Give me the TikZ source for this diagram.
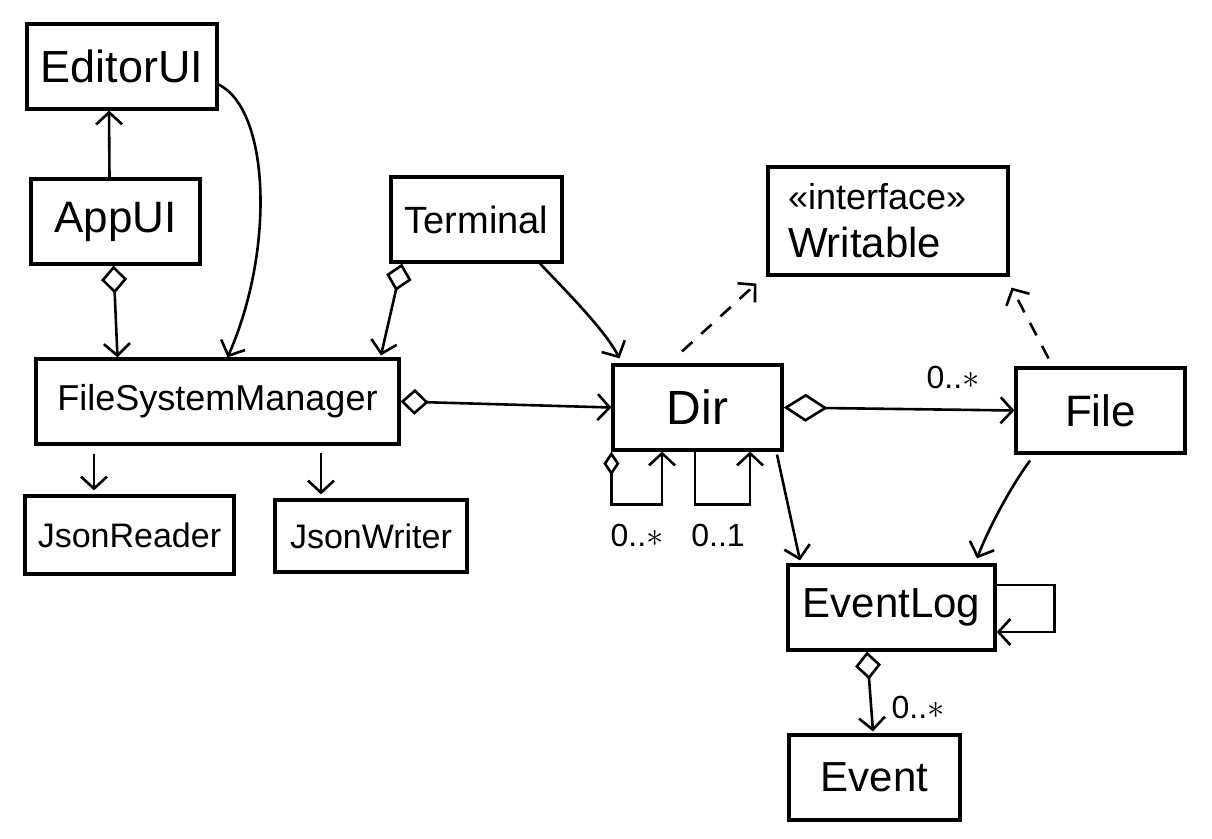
\documentclass[tikz,border=0pt]{standalone}
\usepackage{fontspec}
\setmainfont{Liberation Sans}
\usetikzlibrary{arrows.meta}

\begin{document}
\begin{tikzpicture}[x=0.5pt,y=-0.5pt,
    cls/.style={draw,line width=1.6pt,inner sep=0pt,minimum height=42.5pt,
      font=\fontsize{21}{24}\selectfont},
    assoc/.style={line width=1.3pt,-{Straight Barb[length=6pt,width=13pt]}},
    agg/.style={line width=1.3pt,
      {Diamond[open,length=14pt,width=13pt,#1]}-{Straight Barb[length=6pt,width=13pt]}},
    agg/.default={},
    real/.style={assoc,dash pattern=on 7pt off 6pt},
    mult/.style={font=\fontsize{16}{18}\selectfont}]
  \useasboundingbox (0,0) rectangle (1212,839);
  % classes
  \node[cls,minimum width=95pt,font=\fontsize{22.5}{26}\selectfont] (editor) at (122,66.5) {EditorUI};
  \node[cls,minimum width=84.5pt,font=\fontsize{22}{26}\selectfont] (app) at (115.5,221.5) {AppUI};
  \node[cls,minimum width=85.5pt,font=\fontsize{19}{22}\selectfont] (term) at (476.5,219.5) {Terminal};
  \node[cls,minimum width=181.5pt,font=\fontsize{18}{22}\selectfont] (fsm) at (217.5,401.5) {FileSystemManager};
  \node[cls,minimum width=104.5pt,minimum height=39pt,font=\fontsize{17}{20}\selectfont] (reader) at (129.5,535) {JsonReader};
  \node[cls,minimum width=96pt,minimum height=36pt,font=\fontsize{17}{20}\selectfont] (writer) at (371,536) {JsonWriter};
  \node[cls,minimum width=120pt,minimum height=54pt,text width=100pt,align=left] (writable) at (888,221)
    {\fontsize{18}{27.5}\selectfont «interface»\\\fontsize{21}{27.5}\selectfont Writable};
  \node[cls,minimum width=84.5pt,font=\fontsize{24}{28}\selectfont] (dir) at (697.5,407.5) {Dir};
  \node[cls,minimum width=84.5pt,font=\fontsize{22}{26}\selectfont] (file) at (1100.5,410.5) {File};
  \node[cls,minimum width=103.5pt] (log) at (891.5,607.5) {EventLog};
  \node[cls,minimum width=85.5pt] (event) at (874.5,777.5) {Event};
  % multiplicities
  \node[mult] (m1) at (953,377) {0..$\ast$};
  \node[mult] (m2) at (637,535) {0..$\ast$};
  \node[mult] (m3) at (718,535) {0..1};
  \node[mult] (m4) at (918,707) {0..$\ast$};
  % relations
  \draw[assoc] ([xshift=-3pt]app.north) -- ([xshift=-6.5pt]editor.south);
  \draw[agg] ([xshift=-1pt]app.south) -- ([xshift=-50pt]fsm.north);
  \draw[assoc] ([yshift=-9pt]editor.east) .. controls (270,110) and (275,250) .. ([xshift=5pt]fsm.north);
  \draw[agg] ([xshift=-37.25pt]term.south) -- ([xshift=81.75pt,yshift=1pt]fsm.north);
  \draw[assoc] ([xshift=31.75pt]term.south) .. controls (565,290) and (605,330) .. ([xshift=-39pt,yshift=2.5pt]dir.north);
  \draw[agg] (fsm.east) -- (dir.west);
  \draw[assoc,shorten <=4pt,shorten >=2pt] ([xshift=-17.75pt]reader.north |- fsm.south) -- ([xshift=-17.75pt]reader.north);
  \draw[assoc,shorten <=3.5pt,shorten >=2pt] ([xshift=-25pt]writer.north |- fsm.south) -- ([xshift=-25pt]writer.north);
  \draw[real] ([xshift=-7.75pt,yshift=6pt]dir.north) -- ([xshift=-5pt,yshift=-3.5pt]writable.south west);
  \draw[real] ([xshift=-26pt,yshift=4pt]file.north) -- ([xshift=1pt,yshift=-5.5pt]writable.south east);
  \draw[agg={length=22pt,width=14pt}] (dir.east) -- (file.west);
  \draw[agg={length=12pt,width=8pt}] (dir.south west) -- ++(0,53) -| ([xshift=-17.75pt]dir.south);
  \draw[assoc] ([xshift=-1.25pt]dir.south) -- ++(0,53) -| ([xshift=26.25pt]dir.south);
  \draw[assoc] ([xshift=39.75pt,yshift=-1.5pt]dir.south) -- ([xshift=-45.75pt,yshift=1.5pt]log.north);
  \draw[assoc] ([xshift=-35.25pt,yshift=-3pt]file.south) .. controls (1012,485) and (990,525) .. ([xshift=42.75pt,yshift=2.5pt]log.north);
  \draw[assoc] ([yshift=11.25pt]log.east) -- ++(58,0) |- ([yshift=-12.25pt]log.east);
  \draw[agg] ([xshift=-12.25pt]log.south) -- ([xshift=-0.75pt,yshift=1pt]event.north);
\end{tikzpicture}
\end{document}
